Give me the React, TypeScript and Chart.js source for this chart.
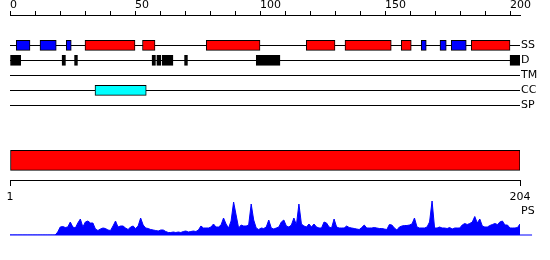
import React, { useEffect, useRef } from 'react';
import { Chart, registerables } from 'chart.js';

Chart.register(...registerables);

// ---- data ----
const sequenceLength = 204;
const rulerTicks = [0, 10, 20, 30, 40, 50, 60, 70, 80, 90, 100, 110, 120, 130, 140, 150, 160, 170, 180, 190, 200];
const residueTicks = [1, 204];
const trackLabels = ['SS', 'D', 'TM', 'CC', 'SP'];
const profileLabel = 'PS';

// secondary structure (helix = red, strand = blue)
const ssHelix = [[30, 50], [53, 58], [78.5, 100], [118.5, 130], [134, 152.5], [156.5, 160.5], [184.5, 200]];
const ssStrand = [[2.5, 8], [12, 18.5], [22.5, 24.5], [164.5, 166.5], [172, 174.5], [176.5, 182.5]];
// disorder
const disorder = [[0, 4.3], [20.8, 22.2], [25.8, 27], [56.8, 58.2], [58.7, 60.3], [60.8, 65.2], [69.8, 71], [98.5, 108], [200, 204]];
// transmembrane / coiled coil / signal peptide
const transmembrane: number[][] = [];
const coiledCoil = [[34, 54.5]];
const signalPeptide: number[][] = [];
// whole-sequence segment
const fullSegment = [[0, 204]];

// per-residue profile (residues 1..204)
const psValues = [
  0, 0, 0, 0, 0, 0, 0, 0, 0, 0, 0, 0, 0, 0, 0, 0, 0, 0, 0,
  3, 8, 8.5, 7.5, 8, 13, 8, 7, 12, 16, 8, 13, 14, 12, 12, 6, 4.5, 6, 7, 6.5, 5, 4.5, 9, 14, 8, 9, 9, 7, 5.5,
  8, 9, 6.5, 9, 17, 10, 7, 6.5, 5.5, 5, 4.5, 4, 5, 5, 3.5, 2.5, 2.5, 3, 2.5, 3, 2.5, 3.5, 4, 3, 3.5, 4, 3.5, 5, 9, 7, 7,
  7, 8, 11, 8, 8, 10, 17, 11, 7, 14, 33, 20, 7, 10, 9, 9, 10, 31, 15, 7, 5.5, 7, 6.5, 8, 15, 7, 6, 7, 8, 13, 15,
  9, 8, 10, 17, 10, 31, 11, 9, 8, 11, 8, 11, 8, 7, 7, 13, 12, 8, 7, 16, 8, 7, 7, 7, 9, 7.5, 7, 6.5, 6, 5.5, 7.5,
  10, 7, 7, 7, 7.5, 7, 6.5, 6.5, 6, 5.5, 10.5, 10, 7, 5, 8, 9, 9.5, 9.5, 10, 11, 17, 8, 7, 7, 7, 8, 13, 34, 7, 7, 8,
  7, 7, 6.5, 7.5, 6, 7, 7, 7, 10, 11.5, 10.5, 11.5, 13, 18.5, 12, 16, 9, 8, 8, 9.5, 10.5, 11.5, 10.5, 13, 14, 10, 10, 7, 7, 7, 7.5, 11,
];

// ---- layout (track rows on the y scale) ----
const TRACK_ROW = { SS: 0, D: 1, TM: 2, CC: 3, SP: 4 };
const SEGMENT_ROW = 7.6667;
const RESIDUE_AXIS_ROW = 9;
const PS_LABEL_ROW = 11.05;

const FONT = 'DejaVu Sans';

function bars(ranges: number[][], row: number) {
  return ranges.map(([s, e]) => ({ x: [s, e], y: row }));
}

function barDataset(ranges: number[][], row: number, color: string, thickness: number) {
  return {
    type: 'bar' as const,
    indexAxis: 'y' as const,
    xAxisID: 'x',
    yAxisID: 'y',
    data: bars(ranges, row) as any,
    backgroundColor: color,
    borderColor: '#000000',
    borderWidth: 1,
    borderSkipped: false,
    barThickness: thickness,
    grouped: false,
  };
}

export default function App() {
  const ref = useRef<HTMLCanvasElement | null>(null);

  useEffect(() => {
    if (!ref.current) return;
    const rightTicks = [TRACK_ROW.SS, TRACK_ROW.D, TRACK_ROW.TM, TRACK_ROW.CC, TRACK_ROW.SP, PS_LABEL_ROW];
    const rightLabels = [...trackLabels, profileLabel];

    const chart = new Chart(ref.current, {
      type: 'line',
      data: {
        datasets: [
          barDataset(ssHelix, TRACK_ROW.SS, '#ff0000', 10),
          barDataset(ssStrand, TRACK_ROW.SS, '#0000ff', 10),
          barDataset(disorder, TRACK_ROW.D, '#000000', 10),
          barDataset(transmembrane, TRACK_ROW.TM, '#00ff00', 10),
          barDataset(coiledCoil, TRACK_ROW.CC, '#00ffff', 10),
          barDataset(signalPeptide, TRACK_ROW.SP, '#ffff00', 10),
          barDataset(fullSegment, SEGMENT_ROW, '#ff0000', 20),
          {
            type: 'line',
            xAxisID: 'x2',
            yAxisID: 'yPS',
            data: psValues.map((v, i) => ({ x: i + 1, y: v })),
            borderColor: '#0000ff',
            backgroundColor: '#0000ff',
            borderWidth: 1,
            pointRadius: 0,
            tension: 0,
            fill: 'origin',
          },
          {
            type: 'line',
            xAxisID: 'x2',
            yAxisID: 'yPS',
            data: [{ x: 1, y: 0 }, { x: 208.8, y: 0 }],
            borderColor: '#0000ff',
            borderWidth: 1,
            pointRadius: 0,
            fill: false,
            clip: false as any,
          },
        ] as any,
      },
      options: {
        responsive: false,
        animation: false,
        events: [],
        layout: { padding: { left: 10, right: 0, top: 0, bottom: 25 } },
        plugins: { legend: { display: false }, tooltip: { enabled: false } },
        scales: {
          x: {
            type: 'linear',
            position: 'top',
            min: 0,
            max: sequenceLength,
            offset: false,
            afterBuildTicks: (s: any) => { s.ticks = rulerTicks.map((v) => ({ value: v })); },
            afterFit: (s: any) => { s.height = 15; },
            ticks: {
              autoSkip: false,
              maxRotation: 0,
              minRotation: 0,
              align: 'start',
              padding: 0,
              color: '#000',
              font: { family: FONT, size: 11, lineHeight: 1 },
              callback: (v: any) => (Number(v) % 50 === 0 ? String(v) : ''),
            },
            grid: { drawOnChartArea: false, drawTicks: true, tickLength: 4, color: '#000', offset: false },
            border: { display: true, color: '#000', width: 1 },
          },
          x2: {
            type: 'linear',
            position: { y: RESIDUE_AXIS_ROW } as any,
            min: 1,
            max: sequenceLength,
            offset: false,
            afterBuildTicks: (s: any) => { s.ticks = residueTicks.map((v) => ({ value: v })); },
            ticks: {
              autoSkip: false,
              maxRotation: 0,
              minRotation: 0,
              padding: 6,
              color: '#000',
              font: { family: FONT, size: 11, lineHeight: 1 },
              callback: (v: any) => String(v),
            },
            grid: { drawOnChartArea: false, drawTicks: true, tickLength: 5, color: '#000', offset: false },
            border: { display: true, color: '#000', width: 1 },
          },
          y: {
            type: 'linear',
            position: 'right',
            reverse: true,
            min: -2.02,
            max: 12.6467,
            offset: false,
            afterBuildTicks: (s: any) => { s.ticks = rightTicks.map((v) => ({ value: v })); },
            afterFit: (s: any) => { s.width = 30; },
            ticks: {
              autoSkip: false,
              padding: 1,
              color: '#000',
              font: { family: FONT, size: 11, lineHeight: 1 },
              callback: (_v: any, i: number) => rightLabels[i],
            },
            grid: {
              drawTicks: false,
              offset: false,
              lineWidth: 1,
              color: (ctx: any) => (ctx.tick && ctx.tick.value <= TRACK_ROW.SP ? '#000' : 'rgba(0,0,0,0)'),
            },
            border: { display: false },
          },
          yPS: {
            type: 'linear',
            display: false,
            min: 0,
            max: 220,
          },
        } as any,
      },
    });
    return () => chart.destroy();
  }, []);

  return (
    <div style={{ position: 'absolute', left: 0, top: 0, width: 550, height: 260, background: '#fff' }}>
      <canvas ref={ref} width={550} height={260} style={{ display: 'block' }} />
    </div>
  );
}
